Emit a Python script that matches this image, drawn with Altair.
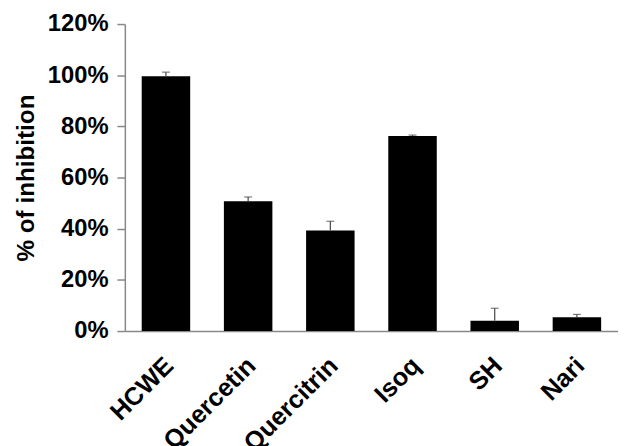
import altair as alt
import pandas as pd

categories = ["HCWE", "Quercetin", "Quercitrin", "Isoq", "SH", "Nari"]
values = [0.996, 0.507, 0.393, 0.762, 0.040, 0.054]
errors = [0.016, 0.017, 0.036, 0.004, 0.049, 0.011]
y_ticks = [0, 0.2, 0.4, 0.6, 0.8, 1.0, 1.2]

df = pd.DataFrame({"cat": categories, "val": values, "err": errors})
df["top"] = df["val"] + df["err"]

FONT = "Liberation Sans"

x = alt.X(
    "cat:N",
    sort=categories,
    scale=alt.Scale(paddingInner=0.41, paddingOuter=0.205),
    axis=alt.Axis(
        title=None,
        labelAngle=-45,
        labelAlign="right",
        labelBaseline="top",
        labelFont=FONT,
        labelFontWeight="bold",
        labelFontSize=25.5,
        labelColor="black",
        labelPadding=22,
        labelOffset=-5,
        ticks=False,
        domainColor="#888888",
        domainWidth=1.5,
    ),
)

y = alt.Y(
    "val:Q",
    scale=alt.Scale(domain=[0, 1.2], nice=False),
    axis=alt.Axis(
        title="% of inhibition",
        titleFont=FONT,
        titleFontWeight="bold",
        titleFontSize=24.5,
        titleColor="black",
        titlePadding=9,
        values=y_ticks,
        format=".0%",
        labelFont=FONT,
        labelFontWeight="bold",
        labelFontSize=24,
        labelColor="black",
        labelPadding=9,
        tickColor="#888888",
        tickSize=8,
        tickWidth=1.5,
        domainColor="#888888",
        domainWidth=1.5,
        grid=False,
    ),
)

bars = alt.Chart(df).mark_bar(color="black").encode(x=x, y=y)

rules = alt.Chart(df).mark_rule(color="#444444", strokeWidth=1.2).encode(
    x=alt.X("cat:N", sort=categories),
    y="val:Q",
    y2="top:Q",
)

caps = alt.Chart(df).mark_tick(color="#444444", thickness=1.2, size=8).encode(
    x=alt.X("cat:N", sort=categories),
    y="top:Q",
)

chart = (
    alt.layer(bars, rules, caps)
    .properties(
        width=498,
        height=310,
        autosize=alt.AutoSizeParams(type="none"),
        padding={"left": 118, "top": 14, "right": 0, "bottom": 124},
    )
    .configure_view(stroke=None)
)

chart.save("out.html", embed_options={"renderer": "svg", "actions": False})
